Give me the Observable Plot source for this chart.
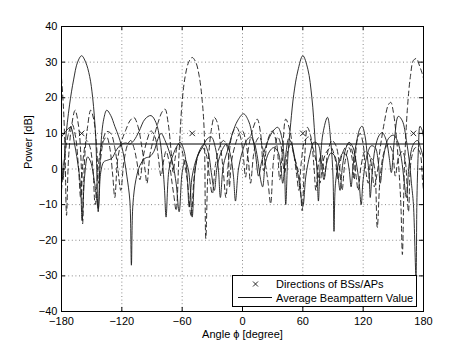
<!DOCTYPE html>
<html><head><meta charset="utf-8">
<script src="https://cdn.jsdelivr.net/npm/d3@7"></script>
<script src="https://cdn.jsdelivr.net/npm/@observablehq/plot@0.6"></script>
<style>
html,body{margin:0;padding:0;background:#fff;}
#wrap{position:relative;width:466px;height:350px;font-family:"Liberation Sans",Arial,Helvetica,sans-serif;}
#wrap svg{display:block;}
#overlay{position:absolute;left:0;top:0;}
</style></head><body><div id="wrap"></div>
<script>
// ---- data ----
const xTicks = [-180, -120, -60, 0, 60, 120, 180];
const yTicks = [-40, -30, -20, -10, 0, 10, 20, 30, 40];
const directions = [-160, -50, 60, 170];   // directions of BSs/APs (deg)
const directionLevel = 10;                  // dB level of the markers
const averageValue = 7;                     // average beampattern value (dB)

// solid beam toward -160°
const beamA = [[-180,3],[-178.5,-3],[-176,8],[-172,18],[-168,25],[-164,30],[-160,31.8],[-156,30],[-152,26],[-149,20],[-146,9],[-143.5,-12],[-141,6],[-138,14],[-135,16.5],[-131,15],[-127,12],[-123,9],[-119,5],[-115,-2],[-112,-9],[-110.5,-27],[-109,-10],[-106,-3],[-102,1],[-97,3],[-92,3.5],[-88,5],[-84,8.5],[-81,10],[-77,8],[-73,5],[-69,1],[-66,-4],[-63,-12],[-60,-1],[-57,2.5],[-54,0],[-52,-5],[-50,-13.5],[-47,0],[-43,5],[-38,7],[-34,4.5],[-31,-1],[-28,-6],[-25,1],[-20,5.5],[-16,7],[-12,4],[-9,-2],[-7,-9],[-4,0],[0,5],[4,8],[8,9],[12,7],[15,3],[18,-3],[20,-5],[23,2],[27,5],[31,6],[35,5],[38,1],[40,-4],[43,4],[46,8.5],[49,7],[52,3],[56,-3],[60,-10.5],[63,-2],[67,4],[71,7.5],[75,7],[78,3],[81,-3],[84,2],[88,4.5],[92,3.5],[95,-2],[97,-6],[99.5,1],[103,6],[106,7.5],[110,6],[113,2],[116,-4],[118,-10],[120,-3],[124,4],[128,6.5],[132,6],[135,2],[137,-4],[140,3],[145,8.5],[150,9.5],[154,8],[158,3],[161,-4],[163,-8],[166,2],[170,7],[174,8],[177,6],[180,3]];

// solid beam toward 60°
const beamB = [[-180,9],[-176,10.5],[-171,11.7],[-167,7],[-163,0],[-161,-5],[-159.5,-14.5],[-157,-2],[-154,3.4],[-151,2],[-147,-4],[-143.5,-11],[-141,-1],[-138,2],[-134,2.5],[-130,3],[-125,5.5],[-120,7],[-116,7.3],[-112,7],[-108,8],[-103,10.5],[-97,14],[-91,15],[-86,13],[-82,8],[-79,0],[-77.5,-6],[-76,-13.5],[-73,0],[-69,4],[-65,6.5],[-62,7.5],[-58,5],[-55,-2],[-53,-10.7],[-50,-2],[-45,3.5],[-40,6],[-35,8.5],[-31,9],[-27,6],[-24,0],[-22,-8],[-19,1],[-14,6],[-10,10],[-5,13.5],[1,15.5],[6,13.5],[10,9],[13,4],[16,-2],[19,2],[24,7],[30,10.5],[35,11.7],[39,9],[41.5,2],[43,-10],[45,3],[48,13],[51,21],[55,27.5],[60,31.8],[65,28],[69,20],[72,9],[74,0],[75.5,-9],[77,0],[80,10],[84.5,14.5],[88,7],[90,-2],[91,-17.5],[92.5,-4],[96,2],[100,4.5],[103,4],[106,0],[108,-5],[110,1],[113,7],[117,11.5],[119,12],[122,9],[124,4],[126,-2],[127,-8],[129,-1],[132,6],[136,9.5],[139,10.2],[143,8],[146,3],[148,-1],[151,8],[155,14.8],[159,13.5],[163,8],[166,2],[168,-4],[170,-10],[172.5,-30],[173.5,-8],[175,6],[176.5,12],[178.5,11],[180,9]];

// dashed beam toward -50°
const beamC = [[-180,-6],[-177,3],[-173,10],[-169.5,12.6],[-166,9],[-163,0],[-161,-8],[-158,4],[-155,8],[-152,6.5],[-149,1],[-146.5,-10],[-143,2],[-139,8],[-135,10.5],[-131,10],[-127,6],[-124,0],[-121,-6],[-118,2],[-114,7],[-111,8],[-108,6],[-105,2],[-102,-3],[-99,3],[-95,8],[-91,10.7],[-87,9],[-84,4],[-81,-2],[-78,3],[-76,5],[-73,2],[-70,-4],[-68,-8],[-66,-11.7],[-63,5],[-60,19],[-57,26],[-53.5,30],[-50,31.3],[-46.5,30],[-43,26],[-40,19],[-38,10],[-36.5,-19.5],[-34,2],[-31,11],[-28,14.5],[-25,13],[-22,7],[-19,-1],[-16.5,-8],[-14,2],[-10,10],[-6,11.7],[-2,9],[1,3],[3,-2.3],[6,6],[10,11],[14.6,14],[18,10],[21,-0.5],[25,8],[29.6,10.7],[34,7],[37,-3],[40,6],[43,14],[47,11],[51,4],[54,1],[57,-3],[59.3,-11.7],[62,4],[64.5,11.7],[68,9],[71,1],[73,-6],[76,2],[79,4],[81.5,-2],[85,5],[89,8],[93,6.5],[96,2],[99,-6],[102,2],[106,6],[109,3],[111,-3],[114,8],[117,10],[120,7],[122,1],[125,-4],[128,3],[131,1],[134,-16.4],[137,-2],[141,5],[145,7],[149,5],[152,-2],[155,3],[159,5],[162,2],[165,-12],[168,3],[172,6],[176,5],[179,-3],[180,-6]];

// dashed beam toward 170°
const beamD = [[-180,25.5],[-178,17],[-176.5,5],[-175,-13],[-173,3],[-170,12],[-166.5,16.5],[-163,12],[-160.5,2],[-159,-15.4],[-157,3],[-154,12],[-151,16.5],[-148,14],[-145,6],[-143,-4],[-141,3],[-138,8],[-135,9],[-132,6],[-129,-2],[-127,-8],[-124,3],[-120,8],[-116,11],[-112,13.5],[-108,14.5],[-104,12],[-100,6],[-97,0],[-95,-4],[-92,4],[-88,9],[-84,13],[-80,16],[-77,16.8],[-74,13],[-71,5],[-69,-1],[-67,3],[-64,7],[-61,6],[-58,2],[-55,-3],[-51,-13.4],[-48,-2],[-44,4],[-40,6],[-36,4],[-33,-2],[-30,-7],[-27,1],[-23,6],[-19,8],[-15,6],[-13,-5],[-11,2],[-7,7],[-3,10],[0,10.7],[3,8],[6,2],[8,-4],[11,4],[14,8],[17,9],[20,6],[23,1],[25.5,-4],[28,-9.8],[31,3],[35,9],[38,7],[40,2],[42,-1],[45,5],[48,7],[51,4],[54,-2],[56,-6],[58.5,2],[62,8],[66,9],[70,6],[74,1],[77,-4],[80,2],[84,5],[88,6],[92,3],[95,-3],[98,3],[102,6],[106,7],[110,4],[113,-2],[115,-6],[118,1],[122,5],[126,4],[129,-1],[131,-5],[134,-1],[137,6],[141,13],[145,18],[147.5,18.7],[150,16],[153,9],[155.5,0],[157.5,-10],[159,-24],[161,0],[164,17],[167,26],[170,30.5],[173,31],[176,29],[178.5,27],[180,25.5]];

const legendLabels = ["Directions of BSs/APs", "Average Beampattern Value"];
const xLabel = "Angle \u03d5 [degree]";
const yLabel = "Power [dB]";

// ---- chart ----
const W = 466, H = 350;
const mL = 61, mR = 43, mT = 26, mB = 39;
const tickPx = 4;
const dyTick = tickPx * 80 / (H - mT - mB);
const dxTick = tickPx * 360 / (W - mL - mR);
const lineStyle = {stroke: "#1a1a1a", strokeWidth: 0.9, curve: "catmull-rom", clip: true};
const xy = {x: d => d[0], y: d => d[1]};

const chart = Plot.plot({
  width: W, height: H,
  marginLeft: mL, marginRight: mR, marginTop: mT, marginBottom: mB,
  style: {fontFamily: "'Liberation Sans', Arial, Helvetica, sans-serif", fontSize: "11px", color: "black", background: "white"},
  x: {domain: [-180, 180]},
  y: {domain: [-40, 40]},
  marks: [
    Plot.gridX(xTicks, {stroke: "#8a8a8a", strokeOpacity: 1, strokeWidth: 1, strokeDasharray: "1,2.6"}),
    Plot.gridY(yTicks, {stroke: "#8a8a8a", strokeOpacity: 1, strokeWidth: 1, strokeDasharray: "1,2.6"}),
    Plot.ruleY([averageValue], {stroke: "#555", strokeWidth: 1.5}),
    Plot.line(beamA, {...xy, ...lineStyle}),
    Plot.line(beamB, {...xy, ...lineStyle}),
    Plot.line(beamC, {...xy, ...lineStyle, strokeDasharray: "5,3.5"}),
    Plot.line(beamD, {...xy, ...lineStyle, strokeDasharray: "5,3.5"}),
    Plot.dot(directions, {x: d => d, y: () => directionLevel, symbol: "times", r: 2.6, stroke: "#111", strokeWidth: 0.9}),
    // inward ticks on all four sides
    Plot.ruleX(xTicks, {y1: -40, y2: -40 + dyTick, stroke: "black"}),
    Plot.ruleX(xTicks, {y1: 40, y2: 40 - dyTick, stroke: "black"}),
    Plot.ruleY(yTicks, {x1: -180, x2: -180 + dxTick, stroke: "black"}),
    Plot.ruleY(yTicks, {x1: 180, x2: 180 - dxTick, stroke: "black"}),
    Plot.frame({stroke: "black", strokeWidth: 1}),
    Plot.axisX(xTicks, {tickSize: 0, tickPadding: 6, label: null}),
    Plot.axisY(yTicks, {tickSize: 0, tickPadding: 4, label: null}),
    Plot.text([xLabel], {frameAnchor: "bottom", dy: 26.5, text: d => d, fontSize: 11}),
    Plot.text([yLabel], {frameAnchor: "left", dx: -33, rotate: -90, text: d => d, fontSize: 11})
  ]
});
const wrap = document.getElementById("wrap");
wrap.appendChild(chart);

// legend overlay
const ov = d3.select(wrap).append("svg").attr("id", "overlay").attr("width", W).attr("height", H)
  .style("font-family", "'Liberation Sans', Arial, Helvetica, sans-serif").style("font-size", "11px");
const lx = 232.5, ly = 275.5, lw = 184, lh = 31;
ov.append("rect").attr("x", lx).attr("y", ly).attr("width", lw).attr("height", lh).attr("fill", "white").attr("stroke", "black");
const r1 = ly + 8.5, r2 = ly + 22;
ov.append("path").attr("d", `M${lx+20.5},${r1-2.5}L${lx+25.5},${r1+2.5}M${lx+20.5},${r1+2.5}L${lx+25.5},${r1-2.5}`).attr("stroke", "#111").attr("stroke-width", 0.9);
ov.append("line").attr("x1", lx + 5.5).attr("x2", lx + 39.5).attr("y1", r2).attr("y2", r2).attr("stroke", "#111").attr("stroke-width", 1);
ov.selectAll("text.lg").data(legendLabels).join("text").attr("class", "lg")
  .attr("x", lx + 43.5).attr("y", (d, i) => (i ? r2 : r1) + 4).text(d => d).attr("fill", "black");
</script></body></html>
